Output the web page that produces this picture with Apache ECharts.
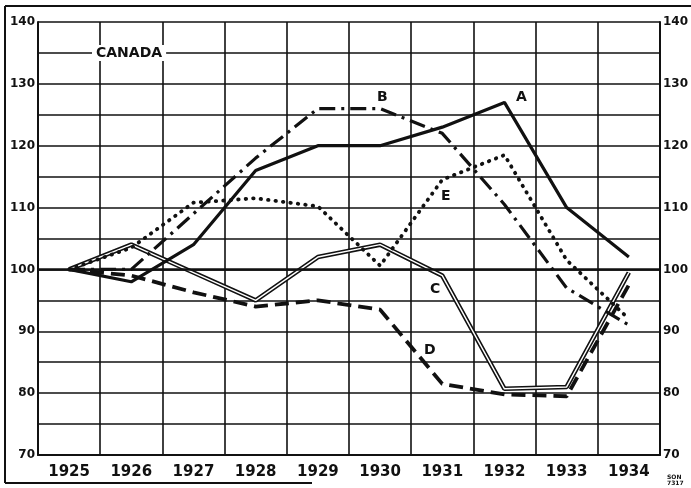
<!DOCTYPE html>
<html>
<head>
<meta charset="utf-8">
<style>
  html, body { margin: 0; padding: 0; background: #fff; }
  #chart { width: 691px; height: 488px; }
</style>
<script src="https://cdn.jsdelivr.net/npm/echarts@6/dist/echarts.min.js"></script>
</head>
<body>
<div id="chart"></div>
<script>
var years = ['1925', '1926', '1927', '1928', '1929', '1930', '1931', '1932', '1933', '1934'];
var seriesA = [100, 98, 104, 116, 120, 120, 123, 127, 110, 102];
var seriesB = [100, 100, 109, 118, 126, 126, 122, 110.5, 97, 91];
var seriesC = [100, 104, 99.5, 95, 102, 104, 99, 80.7, 81, 99.5];
var seriesD = [100, 99, 96.3, 94, 95, 93.5, 81.5, 79.8, 79.5, 97.5];
var seriesE = [100, 103.5, 110.8, 111.5, 110.2, 100.6, 114.5, 118.5, 101.5, 92];
var yTicks = [70, 80, 90, 100, 110, 120, 130, 140];
var baseline = 100;

(function () {
  var chart = echarts.init(document.getElementById('chart'));
  var FONT = 'DejaVu Sans';
  var INK = '#111';

  function tickLabel(value) {
    return yTicks.indexOf(value) >= 0 ? String(value) : '';
  }

  function valueAxis(position, showSplit) {
    return {
      type: 'value',
      position: position,
      min: yTicks[0],
      max: yTicks[yTicks.length - 1],
      interval: 5,
      axisLine: { show: true, lineStyle: { color: INK, width: 2 } },
      axisTick: { show: false },
      axisLabel: {
        formatter: tickLabel,
        color: INK,
        fontFamily: FONT,
        fontWeight: 'bold',
        fontSize: 12,
        margin: 3,
      },
      splitLine: { show: showSplit, lineStyle: { color: INK, width: 1.6 } },
    };
  }

  function line(name, data, style, z) {
    return {
      name: name,
      type: 'line',
      data: data,
      symbol: 'none',
      z: z || 3,
      lineStyle: style,
    };
  }

  var option = {
    backgroundColor: '#fff',
    animation: false,
    grid: { left: 38, right: 28, top: 22, bottom: 33 },
    xAxis: {
      type: 'category',
      data: years,
      boundaryGap: true,
      axisLine: { lineStyle: { color: INK, width: 2 } },
      axisTick: { show: false },
      axisLabel: {
        color: INK,
        fontFamily: FONT,
        fontWeight: 'bold',
        fontSize: 15,
        margin: 10,
      },
      splitLine: { show: true, interval: 0, lineStyle: { color: INK, width: 1.6 } },
    },
    yAxis: [valueAxis('left', true), valueAxis('right', false)],
    series: [
      // A: heavy solid, also carries the 100 reference line
      Object.assign(line('A', seriesA, { color: INK, width: 3.2, type: 'solid' }, 6), {
        markLine: {
          silent: true,
          symbol: 'none',
          label: { show: false },
          lineStyle: { color: INK, width: 2.6, type: 'solid' },
          data: [{ yAxis: baseline }],
        },
      }),
      line('B', seriesB, { color: INK, width: 3.2, type: [16, 6, 3, 6] }, 5),
      // C: double line = black stroke with thin white core
      line('C', seriesC, { color: INK, width: 4.6, type: 'solid' }, 4),
      line('C-core', seriesC, { color: '#fff', width: 1.4, type: 'solid' }, 4),
      line('D', seriesD, { color: INK, width: 3.8, type: [14, 7] }, 5),
      line('E', seriesE, { color: INK, width: 3.8, type: [0.5, 7], cap: 'round' }, 5),
    ],
    graphic: [
      { type: 'line', shape: { x1: 5, y1: 6, x2: 5, y2: 483 }, style: { stroke: INK, lineWidth: 2 } },
      { type: 'line', shape: { x1: 5, y1: 6, x2: 691, y2: 6 }, style: { stroke: INK, lineWidth: 2 } },
      { type: 'line', shape: { x1: 5, y1: 483, x2: 312, y2: 483 }, style: { stroke: INK, lineWidth: 2 } },
      {
        type: 'text', left: 92, top: 45, z: 10,
        style: {
          text: 'CANADA', fill: INK, font: 'bold 14px "DejaVu Sans"',
          backgroundColor: '#fff', padding: [1, 4],
        },
      },
      { type: 'text', left: 516, top: 90, z: 10, style: { text: 'A', fill: INK, font: 'bold 14px "DejaVu Sans"' } },
      { type: 'text', left: 377, top: 90, z: 10, style: { text: 'B', fill: INK, font: 'bold 14px "DejaVu Sans"' } },
      { type: 'text', left: 430, top: 282, z: 10, style: { text: 'C', fill: INK, font: 'bold 14px "DejaVu Sans"' } },
      { type: 'text', left: 424, top: 343, z: 10, style: { text: 'D', fill: INK, font: 'bold 14px "DejaVu Sans"' } },
      { type: 'text', left: 441, top: 189, z: 10, style: { text: 'E', fill: INK, font: 'bold 14px "DejaVu Sans"' } },
      { type: 'text', left: 667, top: 474, z: 10, style: { text: 'SON\n7317', fill: INK, font: 'bold 6px "DejaVu Sans"', lineHeight: 6 } },
    ],
  };

  chart.setOption(option);
})();
</script>
</body>
</html>
